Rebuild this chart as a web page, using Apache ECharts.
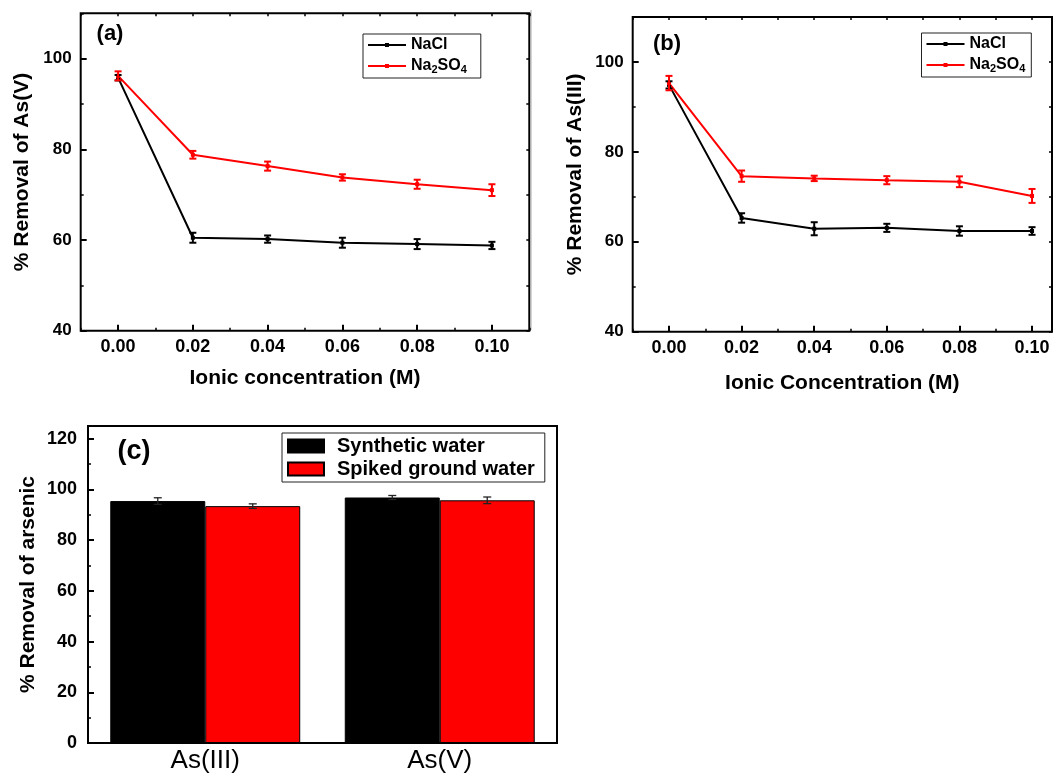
<!DOCTYPE html>
<html>
<head>
<meta charset="utf-8">
<script src="https://cdn.jsdelivr.net/npm/echarts@6/dist/echarts.min.js"></script>
<style>
html,body{margin:0;padding:0;background:#fff;}
#chart{width:1056px;height:774px;}
</style>
</head>
<body>
<div id="chart"></div>
<script>
// ---------- data ----------
const concentrations = [0.00, 0.02, 0.04, 0.06, 0.08, 0.10];
const concTicks = [0.00, 0.02, 0.04, 0.06, 0.08, 0.10];

// (a) As(V)
const asV_NaCl = [95.8, 60.5, 60.2, 59.4, 59.1, 58.8];
const asV_NaCl_err = [0.6, 1.1, 0.8, 1.1, 1.1, 0.8];
const asV_Na2SO4 = [96.2, 78.8, 76.3, 73.8, 72.3, 71.0];
const asV_Na2SO4_err = [1.0, 0.85, 1.0, 0.7, 1.0, 1.3];

// (b) As(III)
const asIII_NaCl = [94.9, 65.3, 62.9, 63.1, 62.4, 62.4];
const asIII_NaCl_err = [0.8, 1.05, 1.45, 0.9, 1.05, 0.85];
const asIII_Na2SO4 = [95.3, 74.6, 74.1, 73.7, 73.35, 70.2];
const asIII_Na2SO4_err = [1.6, 1.25, 0.6, 0.9, 1.2, 1.55];

// (c) water types
const arsenicSpecies = ['As(III)', 'As(V)'];
const syntheticWater = [95.4, 96.8];
const syntheticWater_err = [1.3, 0.8];
const spikedGroundWater = [93.4, 95.7];
const spikedGroundWater_err = [0.9, 1.3];

// ---------- helpers ----------
const FF = '"Liberation Sans", Arial, Helvetica, sans-serif';
const zip = (xs, ys) => xs.map((x, i) => [x, ys[i]]);
const errData = (xs, ys, es) => xs.map((x, i) => [x, ys[i] - es[i], ys[i] + es[i]]);

function makeErr(color, cap, lw, offsetFrac) {
  return function (params, api) {
    const x = api.value(0), lo = api.value(1), hi = api.value(2);
    const pLo = api.coord([x, lo]), pHi = api.coord([x, hi]);
    const dx = offsetFrac ? api.size([1, 0])[0] * offsetFrac : 0;
    const cx = pLo[0] + dx;
    const st = { stroke: color, lineWidth: lw };
    return {
      type: 'group',
      children: [
        { type: 'line', shape: { x1: cx, y1: pLo[1], x2: cx, y2: pHi[1] }, style: st },
        { type: 'line', shape: { x1: cx - cap, y1: pLo[1], x2: cx + cap, y2: pLo[1] }, style: st },
        { type: 'line', shape: { x1: cx - cap, y1: pHi[1], x2: cx + cap, y2: pHi[1] }, style: st }
      ]
    };
  };
}

const tickStyleMajor = { color: '#000', width: 2 };
const tickStyleMinor = { color: '#000', width: 1.5 };
const noLine = { show: false, onZero: false };

function xAxesFor(grid, max, title, gap) {
  return [
    {
      type: 'value', gridIndex: grid, min: -0.01, max: max, position: 'bottom',
      axisLine: noLine, splitLine: { show: false },
      axisTick: { show: true, inside: true, length: 6, lineStyle: tickStyleMajor, customValues: concTicks },
      axisLabel: { customValues: concTicks, formatter: v => v.toFixed(2), fontSize: 18, fontWeight: 'bold', color: '#000', margin: 7, fontFamily: FF },
      name: title, nameLocation: 'middle', nameGap: gap,
      nameTextStyle: { fontSize: 21, fontWeight: 'bold', color: '#000', fontFamily: FF }
    },
    {
      type: 'value', gridIndex: grid, min: -0.01, max: max, interval: 0.01, position: 'bottom',
      axisLine: noLine, splitLine: { show: false }, axisLabel: { show: false },
      axisTick: { show: true, inside: true, length: 3, lineStyle: tickStyleMinor }
    },
    {
      type: 'value', gridIndex: grid, min: -0.01, max: max, interval: 0.01, position: 'top',
      axisLine: noLine, splitLine: { show: false }, axisLabel: { show: false },
      axisTick: { show: true, inside: true, length: 3, lineStyle: tickStyleMinor }
    }
  ];
}

function yAxesFor(grid, title, gap) {
  return [
    {
      type: 'value', gridIndex: grid, min: 40, max: 110, interval: 20, position: 'left',
      axisLine: noLine, splitLine: { show: false },
      axisTick: { show: true, inside: true, length: 6, lineStyle: tickStyleMajor },
      axisLabel: { showMaxLabel: false, fontSize: 17, fontWeight: 'bold', color: '#000', margin: 9, fontFamily: FF },
      name: title, nameLocation: 'middle', nameGap: gap,
      nameTextStyle: { fontSize: 21, fontWeight: 'bold', color: '#000', fontFamily: FF }
    },
    {
      type: 'value', gridIndex: grid, min: 40, max: 110, interval: 10, position: 'left',
      axisLine: noLine, splitLine: { show: false }, axisLabel: { show: false },
      axisTick: { show: true, inside: true, length: 3, lineStyle: tickStyleMinor }
    },
    {
      type: 'value', gridIndex: grid, min: 40, max: 110, interval: 10, position: 'right',
      axisLine: noLine, splitLine: { show: false }, axisLabel: { show: false },
      axisTick: { show: true, inside: true, length: 3, lineStyle: tickStyleMinor }
    }
  ];
}

function lineSeries(name, xi, yi, ys, color) {
  return {
    type: 'line', name: name, xAxisIndex: xi, yAxisIndex: yi,
    data: zip(concentrations, ys), symbol: 'rect', symbolSize: 4,
    lineStyle: { width: 2, color: color }, itemStyle: { color: color },
    z: 3, animation: false
  };
}
function errSeries(name, xi, yi, ys, es, color) {
  return {
    type: 'custom', name: name, xAxisIndex: xi, yAxisIndex: yi,
    data: errData(concentrations, ys, es), encode: { x: 0, y: [1, 2] },
    renderItem: makeErr(color, 3.5, 2, 0), z: 4, animation: false
  };
}

const legendFormatter = n => n === 'Na2SO4' ? 'Na{s|2}SO{s|4}' : n;
const legendText = {
  fontSize: 16, fontWeight: 'bold', color: '#000', fontFamily: FF,
  rich: { s: { fontSize: 11, fontWeight: 'bold', color: '#000', fontFamily: FF, padding: [7, 0, 0, 0] } }
};

const option = {
  backgroundColor: '#fff',
  animation: false,
  grid: [
    { left: 80.7, top: 13.3, width: 448.6, height: 317.4, show: true, borderColor: '#000', borderWidth: 2, backgroundColor: 'transparent' },
    { left: 632.7, top: 17, width: 419.3, height: 314.7, show: true, borderColor: '#000', borderWidth: 2, backgroundColor: 'transparent' },
    { left: 88, top: 426, width: 469, height: 318, show: true, borderColor: '#000', borderWidth: 2, backgroundColor: 'transparent' }
  ],
  xAxis: [].concat(
    xAxesFor(0, 0.11, 'Ionic concentration (M)', 37),
    xAxesFor(1, 0.1055, 'Ionic Concentration (M)', 41),
    [{
      type: 'category', gridIndex: 2, data: arsenicSpecies, position: 'bottom',
      axisLine: noLine, axisTick: { show: false }, splitLine: { show: false },
      axisLabel: { fontSize: 26, color: '#000', margin: 5, fontFamily: FF }
    }]
  ),
  yAxis: [].concat(
    yAxesFor(0, '% Removal of As(V)', 48),
    yAxesFor(1, '% Removal of As(III)', 47),
    [
      {
        type: 'value', gridIndex: 2, min: 0, max: 125, interval: 20, position: 'left',
        axisLine: noLine, splitLine: { show: false },
        axisTick: { show: true, inside: true, length: 6, lineStyle: tickStyleMajor },
        axisLabel: { showMaxLabel: false, fontSize: 18, fontWeight: 'bold', color: '#000', margin: 11, fontFamily: FF },
        name: '% Removal of arsenic', nameLocation: 'middle', nameGap: 49,
        nameTextStyle: { fontSize: 21, fontWeight: 'bold', color: '#000', fontFamily: FF }
      },
      {
        type: 'value', gridIndex: 2, min: 0, max: 125, interval: 10, position: 'left',
        axisLine: noLine, splitLine: { show: false }, axisLabel: { show: false },
        axisTick: { show: true, inside: true, length: 3, lineStyle: tickStyleMinor }
      }
    ]
  ),
  legend: [
    {
      data: ['NaCl', 'Na2SO4'], orient: 'vertical', left: 363, top: 34,
      itemWidth: 38, itemHeight: 5, itemGap: 5, padding: [3, 14, 3, 4],
      borderColor: '#222', borderWidth: 1, selectedMode: false,
      formatter: legendFormatter, textStyle: legendText
    },
    {
      data: ['NaCl', 'Na2SO4'], orient: 'vertical', left: 921.5, top: 33,
      itemWidth: 38, itemHeight: 5, itemGap: 5, padding: [3, 6, 3, 4],
      borderColor: '#222', borderWidth: 1, selectedMode: false,
      formatter: legendFormatter, textStyle: legendText
    },
    {
      data: ['Synthetic water', 'Spiked ground water'], orient: 'vertical', left: 282, top: 433,
      itemWidth: 36, itemHeight: 13, itemGap: 3, padding: [3, 10, 3, 5],
      borderColor: '#222', borderWidth: 1, selectedMode: false, icon: 'rect',
      textStyle: { fontSize: 20, fontWeight: 'bold', color: '#000', fontFamily: FF, padding: [0, 0, 0, 8] }
    }
  ],
  graphic: [
    { type: 'line', shape: { x1: 531, y1: 10, x2: 531, y2: 330 }, style: { stroke: '#aaa', lineWidth: 1 } },
    { type: 'text', x: 110, y: 34, style: { text: '(a)', font: 'bold 22px ' + FF, fill: '#000', align: 'center', verticalAlign: 'middle' } },
    { type: 'text', x: 667, y: 44, style: { text: '(b)', font: 'bold 22px ' + FF, fill: '#000', align: 'center', verticalAlign: 'middle' } },
    { type: 'text', x: 134, y: 452, style: { text: '(c)', font: 'bold 27px ' + FF, fill: '#000', align: 'center', verticalAlign: 'middle' } }
  ],
  series: [
    lineSeries('NaCl', 0, 0, asV_NaCl, '#000'),
    lineSeries('Na2SO4', 0, 0, asV_Na2SO4, '#ff0000'),
    errSeries('NaCl err a', 0, 0, asV_NaCl, asV_NaCl_err, '#000'),
    errSeries('Na2SO4 err a', 0, 0, asV_Na2SO4, asV_Na2SO4_err, '#ff0000'),

    lineSeries('NaCl', 3, 3, asIII_NaCl, '#000'),
    lineSeries('Na2SO4', 3, 3, asIII_Na2SO4, '#ff0000'),
    errSeries('NaCl err b', 3, 3, asIII_NaCl, asIII_NaCl_err, '#000'),
    errSeries('Na2SO4 err b', 3, 3, asIII_Na2SO4, asIII_Na2SO4_err, '#ff0000'),

    {
      type: 'bar', name: 'Synthetic water', xAxisIndex: 6, yAxisIndex: 6, data: syntheticWater,
      barGap: '0%', barCategoryGap: '19%',
      itemStyle: { color: '#000', borderColor: '#000', borderWidth: 1 }
    },
    {
      type: 'bar', name: 'Spiked ground water', xAxisIndex: 6, yAxisIndex: 6, data: spikedGroundWater,
      barGap: '0%', barCategoryGap: '19%',
      itemStyle: { color: '#ff0000', borderColor: '#000', borderWidth: 1 }
    },
    {
      type: 'custom', name: 'Synthetic err', xAxisIndex: 6, yAxisIndex: 6,
      data: errData([0, 1], syntheticWater, syntheticWater_err), encode: { x: 0, y: [1, 2] },
      renderItem: makeErr('#222', 4, 1.3, -0.2025), z: 5
    },
    {
      type: 'custom', name: 'Spiked err', xAxisIndex: 6, yAxisIndex: 6,
      data: errData([0, 1], spikedGroundWater, spikedGroundWater_err), encode: { x: 0, y: [1, 2] },
      renderItem: makeErr('#222', 4, 1.3, 0.2025), z: 5
    }
  ]
};

const chart = echarts.init(document.getElementById('chart'), null, { renderer: 'canvas' });
chart.setOption(option);
</script>
</body>
</html>
